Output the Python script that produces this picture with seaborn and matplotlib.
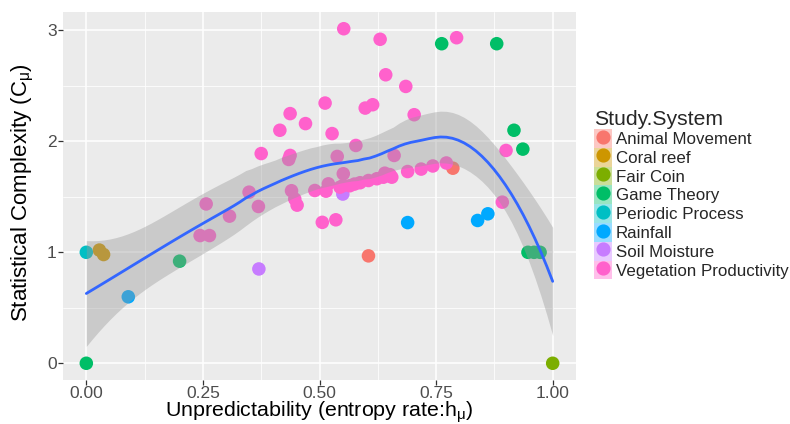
import numpy as np
import pandas as pd
import matplotlib
matplotlib.use("Agg")
import matplotlib.pyplot as plt
import seaborn as sns
from matplotlib.patches import Patch
from matplotlib.lines import Line2D
from matplotlib.legend_handler import HandlerTuple

# ---------------- data ----------------
categories = ["Animal Movement", "Coral reef", "Fair Coin", "Game Theory",
              "Periodic Process", "Rainfall", "Soil Moisture", "Vegetation Productivity"]
palette = ["#F8766D", "#CD9600", "#7CAE00", "#00BE67",
           "#00BFC4", "#00A9FF", "#C77CFF", "#FF61CC"]

animal_x = [0.605, 0.786]
animal_y = [0.968, 1.758]
coral_x = [0.028, 0.037]
coral_y = [1.02, 0.98]
coin_x = [1.0]
coin_y = [0.0]
game_x = [0.0, 0.200, 0.762, 0.880, 0.917, 0.936, 0.947, 0.960, 0.973]
game_y = [0.0, 0.920, 2.880, 2.880, 2.100, 1.930, 1.0, 1.0, 1.0]
periodic_x = [0.0]
periodic_y = [1.0]
rain_x = [0.090, 0.689, 0.839, 0.861]
rain_y = [0.599, 1.268, 1.287, 1.347]
soil_x = [0.370, 0.550]
soil_y = [0.850, 1.525]
veg_x = [0.552, 0.630, 0.794, 0.642, 0.685, 0.512, 0.598, 0.614, 0.437, 0.415,
         0.470, 0.703, 0.527, 0.375, 0.437, 0.434, 0.538, 0.578, 0.660, 0.900,
         0.892, 0.772, 0.743, 0.718, 0.689, 0.651, 0.640, 0.623, 0.605, 0.587,
         0.551, 0.551, 0.519, 0.490, 0.349, 0.369, 0.440, 0.447, 0.452, 0.514,
         0.544, 0.506, 0.535, 0.257, 0.244, 0.264, 0.307, 0.565, 0.575, 0.637,
         0.655]
veg_y = [3.015, 2.920, 2.934, 2.600, 2.495, 2.345, 2.300, 2.330, 2.250, 2.100,
         2.160, 2.240, 2.070, 1.890, 1.873, 1.837, 1.864, 1.963, 1.873, 1.918,
         1.452, 1.805, 1.778, 1.750, 1.728, 1.700, 1.713, 1.663, 1.647, 1.627,
         1.708, 1.602, 1.617, 1.557, 1.542, 1.413, 1.555, 1.480, 1.425, 1.551,
         1.587, 1.270, 1.293, 1.436, 1.151, 1.151, 1.326, 1.600, 1.615, 1.677,
         1.677]

xs = [animal_x, coral_x, coin_x, game_x, periodic_x, rain_x, soil_x, veg_x]
ys = [animal_y, coral_y, coin_y, game_y, periodic_y, rain_y, soil_y, veg_y]

x_ticks = [0.0, 0.25, 0.5, 0.75, 1.0]
x_ticklabels = ["0.00", "0.25", "0.50", "0.75", "1.00"]
y_ticks = [0, 1, 2, 3]
y_ticklabels = ["0", "1", "2", "3"]

rows = []
for cat, cx, cy in zip(categories, xs, ys):
    for a, b in zip(cx, cy):
        rows.append((cat, a, b))
df = pd.DataFrame(rows, columns=["Study.System", "h", "C"])


# ---------------- loess (span .75, degree 2) with SE ----------------
def loess_rows(x, pts, span=0.75):
    n = len(x)
    q = int(np.floor(n * span))
    L = np.zeros((len(pts), n))
    for i, x0 in enumerate(pts):
        d = np.abs(x - x0)
        h = np.sort(d)[q - 1]
        u = np.clip(d / h, 0, 1)
        w = (1 - u ** 3) ** 3
        X = np.column_stack([np.ones(n), x - x0, (x - x0) ** 2])
        XtW = X.T * w
        A = XtW @ X
        L[i] = np.linalg.solve(A, XtW)[0]
    return L


xv = df["h"].to_numpy()
yv = df["C"].to_numpy()
Ld = loess_rows(xv, xv)
IL = np.eye(len(xv)) - Ld
M = IL.T @ IL
one_delta = np.trace(M)
two_delta = np.trace(M @ M)
resid = yv - Ld @ yv
sigma = np.sqrt(np.sum(resid ** 2) / one_delta)
dfree = one_delta ** 2 / two_delta
z = 1.959963985
tq = z + (z ** 3 + z) / (4 * dfree) + (5 * z ** 5 + 16 * z ** 3 + 3 * z) / (96 * dfree ** 2)

grid = np.linspace(xv.min(), xv.max(), 80)
Lg = loess_rows(xv, grid)
fit = Lg @ yv
se = sigma * np.sqrt(np.sum(Lg ** 2, axis=1))
lo = fit - tq * se
hi = fit + tq * se

# ---------------- plot ----------------
sns.set_theme(style="darkgrid")
plt.rcParams["font.family"] = ["Liberation Sans", "DejaVu Sans"]
plt.rcParams["mathtext.fontset"] = "custom"
plt.rcParams["mathtext.rm"] = "Liberation Sans"
plt.rcParams["mathtext.it"] = "Liberation Sans"

fig = plt.figure(figsize=(7.9, 4.24), dpi=100)
ax = fig.add_axes([63 / 790, 1 - 380 / 424, (576 - 63) / 790, (380 - 12) / 424])
ax.set_facecolor("#EBEBEB")

sns.scatterplot(data=df, x="h", y="C", hue="Study.System", hue_order=categories,
                palette=palette, s=95, linewidth=0, alpha=1, ax=ax, legend=False,
                zorder=2)
ax.fill_between(grid, lo, hi, color="#999999", alpha=0.4, linewidth=0, zorder=3)
ax.plot(grid, fit, color="#3366FF", lw=2.0, zorder=4)

ax.set_xlim(-0.05, 1.05)
ax.set_ylim(-0.1508, 3.1658)
ax.set_xticks(x_ticks)
ax.set_xticklabels(x_ticklabels)
ax.set_yticks(y_ticks)
ax.set_yticklabels(y_ticklabels)
ax.set_xticks([0.125, 0.375, 0.625, 0.875], minor=True)
ax.set_yticks([0.5, 1.5, 2.5], minor=True)
ax.grid(which="major", color="white", lw=1.1)
ax.grid(which="minor", color="white", lw=0.55)
ax.set_axisbelow(True)
for sp in ax.spines.values():
    sp.set_visible(False)
ax.tick_params(axis="both", which="major", length=3.5, width=0.9, color="#333333",
               labelcolor="#4D4D4D", labelsize=12.5, pad=1.0, bottom=True, left=True)
ax.tick_params(axis="both", which="minor", length=0)

ax.set_xlabel(r"Unpredictability (entropy rate:h$_{\mathregular{\mu}}$)", fontsize=15.4,
              color="black")
ax.xaxis.label.set_va("baseline")
ax.xaxis.set_label_coords(0.5, -(417 - 380) / 368)
ax.set_ylabel(r"Statistical Complexity (C$_{\mathregular{\mu}}$)", fontsize=16,
              color="black")
ax.yaxis.label.set_va("center")
ax.yaxis.set_label_coords((23 - 63) / 513, 0.51)

handles = []
for c in palette:
    handles.append((Patch(facecolor=c, alpha=0.4, edgecolor="none"),
                    Line2D([], [], marker="o", color=c, markersize=9.2, linestyle="none")))
leg = fig.legend(handles, categories,
                 handler_map={tuple: HandlerTuple(ndivide=1, pad=0)},
                 loc="upper left", bbox_to_anchor=(594 / 790, 1 - 110 / 424),
                 frameon=False, title="Study.System", fontsize=12.2,
                 title_fontsize=15.2, labelspacing=0.0, handlelength=1.08,
                 handleheight=1.33, handletextpad=0.22, borderaxespad=0,
                 borderpad=0)
leg._legend_box.align = "left"

fig.savefig("out.png", dpi=100)
